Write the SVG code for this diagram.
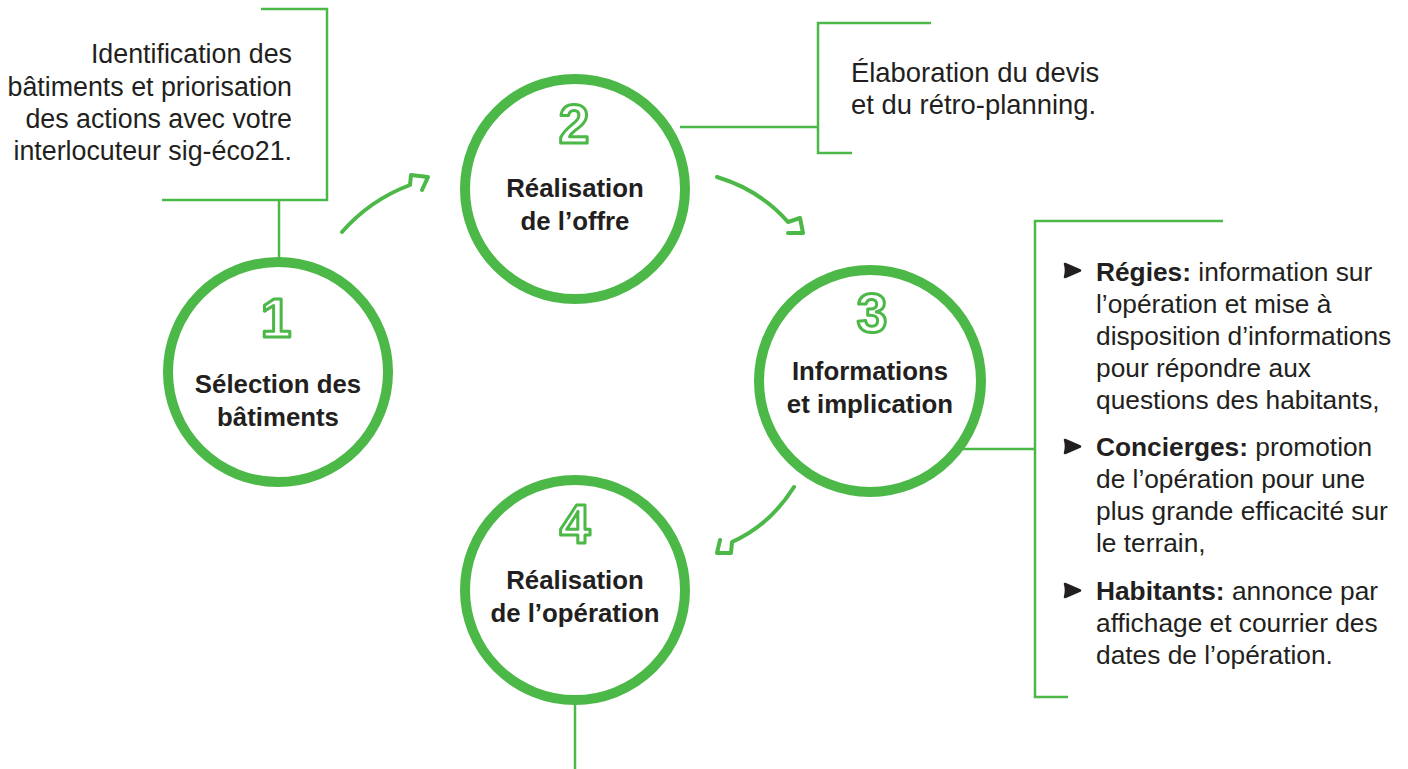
<svg xmlns="http://www.w3.org/2000/svg" width="1408" height="769" viewBox="0 0 1408 769">
<style>
.ring{fill:none;stroke:#4cb848;stroke-width:10}
.ln{fill:none;stroke:#4cb848;stroke-width:2.5}
.arr{fill:none;stroke:#4cb848;stroke-width:4;stroke-linecap:round;stroke-linejoin:round}
.num{font-family:"Liberation Sans",Arial,sans-serif;font-weight:bold;font-size:55px;fill:#fff;stroke:#4cb848;stroke-width:3;stroke-linejoin:round;text-anchor:middle}
.lbl{font-family:"Liberation Sans",Arial,sans-serif;font-weight:bold;font-size:25.8px;fill:#231f20;text-anchor:middle}
.txt{font-family:"Liberation Sans",Arial,sans-serif;font-size:26.3px;fill:#231f20}
.n1{font-size:26.8px}
.n2{font-size:27.4px}
.b{font-weight:bold}
.bul{fill:#231f20;stroke:#231f20;stroke-width:2.5;stroke-linejoin:round}
</style>
<rect width="1408" height="769" fill="#fff"/>
<g id="connectors">
<path class="ln" d="M261,9 H327 V200 H162 M279,200 V258"/>
<path class="ln" d="M931,23 H818 V153 H852 M680,127 H818"/>
<path class="ln" d="M1223,221 H1035 V697 H1068 M955,449 H1035"/>
<path class="ln" d="M575,705 V769"/>
<path class="arr" d="M342,232 Q370,200 410,185 L411,175 L428,177 L422,190"/>
<path class="arr" d="M717,177 Q760,190 788,222 L800,218 L803,233 L788,233"/>
<path class="arr" d="M794,487 Q770,525 732,542 L731,553 L717,553 L720,540"/>
</g>
<g id="node1">
<circle class="ring" cx="278" cy="372" r="110"/>
<text class="num" x="276" y="337">1</text>
<text class="lbl" x="278" y="393">Sélection des</text>
<text class="lbl" x="278" y="426">bâtiments</text>
</g>
<g id="node2">
<circle class="ring" cx="575" cy="189" r="110"/>
<text class="num" x="574" y="143">2</text>
<text class="lbl" x="575" y="197">Réalisation</text>
<text class="lbl" x="575" y="230">de l’offre</text>
</g>
<g id="node3">
<circle class="ring" cx="870" cy="381" r="111"/>
<text class="num" x="872" y="332">3</text>
<text class="lbl" x="870" y="380">Informations</text>
<text class="lbl" x="870" y="413">et implication</text>
</g>
<g id="node4">
<circle class="ring" cx="575" cy="590" r="110"/>
<text class="num" x="575" y="543">4</text>
<text class="lbl" x="575" y="589">Réalisation</text>
<text class="lbl" x="575" y="622">de l’opération</text>
</g>
<g id="note1">
<text class="txt n1" text-anchor="end" x="292" y="63">Identification des</text>
<text class="txt n1" text-anchor="end" x="292" y="96">bâtiments et priorisation</text>
<text class="txt n1" text-anchor="end" x="292" y="128">des actions avec votre</text>
<text class="txt n1" text-anchor="end" x="292" y="160">interlocuteur sig-éco21.</text>
</g>
<g id="note2">
<text class="txt n2" x="851" y="82">Élaboration du devis</text>
<text class="txt n2" x="851" y="114">et du rétro-planning.</text>
</g>
<g id="note3">
<path class="bul" d="M1065,264 L1080,270.5 L1065,277 Q1067,270.5 1065,264 Z"/>
<path class="bul" d="M1065,440 L1080,446.5 L1065,453 Q1067,446.5 1065,440 Z"/>
<path class="bul" d="M1065,584 L1080,590.5 L1065,597 Q1067,590.5 1065,584 Z"/>
<text class="txt" x="1096" y="281"><tspan class="b">Régies:</tspan> information sur</text>
<text class="txt" x="1096" y="313">l’opération et mise à</text>
<text class="txt" x="1096" y="345">disposition d’informations</text>
<text class="txt" x="1096" y="377">pour répondre aux</text>
<text class="txt" x="1096" y="409">questions des habitants,</text>
<text class="txt" x="1096" y="456"><tspan class="b">Concierges:</tspan> promotion</text>
<text class="txt" x="1096" y="488">de l’opération pour une</text>
<text class="txt" x="1096" y="520">plus grande efficacité sur</text>
<text class="txt" x="1096" y="552">le terrain,</text>
<text class="txt" x="1096" y="600"><tspan class="b">Habitants:</tspan> annonce par</text>
<text class="txt" x="1096" y="632">affichage et courrier des</text>
<text class="txt" x="1096" y="664">dates de l’opération.</text>
</g>
</svg>
